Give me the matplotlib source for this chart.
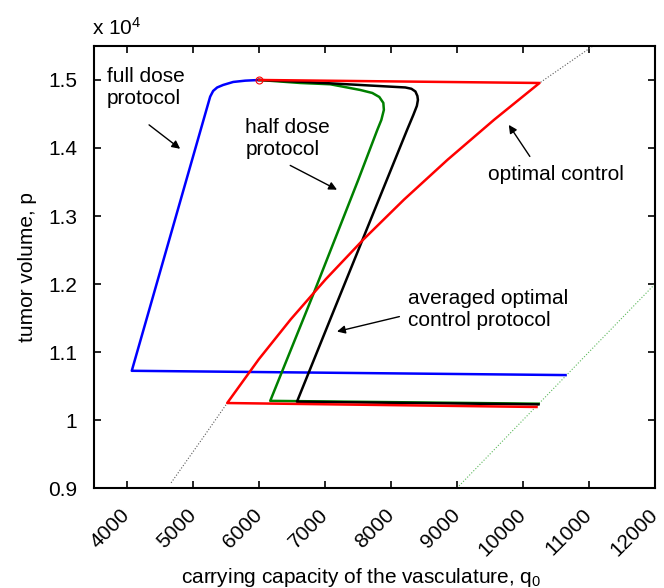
import matplotlib
matplotlib.use("Agg")
import matplotlib.pyplot as plt
from matplotlib.ticker import FixedLocator
from matplotlib.transforms import ScaledTranslation

plt.rcParams['font.family'] = ['Liberation Sans', 'DejaVu Sans']
plt.rcParams['mathtext.fontset'] = 'custom'
plt.rcParams['mathtext.rm'] = 'Liberation Sans'
plt.rcParams['mathtext.it'] = 'Liberation Sans:italic'

# carrying capacity q (x) and tumor volume p (y) along each trajectory
full_q = [6000, 5791, 5609, 5457, 5366, 5305, 5260, 4072, 10645]
full_p = [15000, 14990, 14971, 14927, 14890, 14839, 14755, 10724, 10661]

half_q = [6000, 6625, 7080, 7535, 7717, 7823, 7884, 7892, 7854, 7793, 7505, 6822, 6170, 10235]
half_p = [15000, 14956, 14937, 14853, 14809, 14750, 14663, 14560, 14413, 14267, 13534, 11848, 10282, 10240]

avg_q = [6000, 6625, 8218, 8309, 8370, 8400, 8408, 8392, 8339, 8244, 7080, 6575, 10235]
avg_p = [15000, 14975, 14890, 14871, 14831, 14765, 14707, 14619, 14487, 14267, 11482, 10269, 10230]

opt_q = [6000, 10251, 9561, 8857, 8197, 7581, 7009, 6482, 5998, 5518, 10205]
opt_p = [15000, 14956, 14414, 13827, 13241, 12654, 12068, 11482, 10895, 10250, 10192]

# singular arc (black dotted) and the diagonal p = q (green dotted)
sing_q = [4668, 5138, 5518, 5998, 6482, 7009, 7581, 8197, 8857, 9561, 10251, 11060]
sing_p = [9077, 9722, 10250, 10895, 11482, 12068, 12654, 13241, 13827, 14414, 14956, 15500]
diag_q = [9000, 12000]
diag_p = [9000, 12000]

start_q, start_p = 6000, 15000

x_ticks = [4000, 5000, 6000, 7000, 8000, 9000, 10000, 11000, 12000]
y_ticks = [9000, 10000, 11000, 12000, 13000, 14000, 15000]
y_labels = ['0.9', '1', '1.1', '1.2', '1.3', '1.4', '1.5']

fig = plt.figure(figsize=(6.64, 5.88), dpi=100)
ax = fig.add_axes([0.1416, 0.170, 0.8448, 0.7518])

ax.plot(sing_q, sing_p, color='0.35', linestyle=':', linewidth=0.8)
ax.plot(diag_q, diag_p, color='#5cb85c', linestyle=':', linewidth=0.8)

ax.plot(full_q, full_p, color='#0000ff', linewidth=1.8)
ax.plot(half_q, half_p, color='#008000', linewidth=1.8)
ax.plot(avg_q, avg_p, color='black', linewidth=1.8)
ax.plot(opt_q, opt_p, color='#ff0000', linewidth=1.8)
ax.plot(start_q, start_p, 'o', mfc='none', mec='red', ms=5, mew=0.8)

ax.set_xlim(3500, 12000)
ax.set_ylim(9000, 15500)
ax.xaxis.set_major_locator(FixedLocator(x_ticks))
ax.yaxis.set_major_locator(FixedLocator(y_ticks))
ax.set_yticklabels(y_labels)
ax.set_xticklabels([str(t) for t in x_ticks], rotation=45, ha='right',
                   va='center', rotation_mode='anchor')
shift = ScaledTranslation(0.07, 0, fig.dpi_scale_trans)
for lbl in ax.get_xticklabels():
    lbl.set_transform(lbl.get_transform() + shift)

ax.tick_params(direction='in', top=True, right=True, length=5, width=1.2,
               labelsize=15)
ax.tick_params(axis='y', pad=12)
ax.tick_params(axis='x', pad=17)
for s in ax.spines.values():
    s.set_linewidth(1.5)

ax.set_xlabel('carrying capacity of the vasculature, q$_0$', fontsize=15)
ax.xaxis.set_label_coords(0.477, -0.176)
ax.set_ylabel('tumor volume, p', fontsize=15, labelpad=8)
fig.text(0.139, 0.953, 'x 10$^4$', fontsize=15, ha='left', va='center')

arrow = dict(arrowstyle='-|>', color='black', lw=1.0, mutation_scale=12,
             shrinkA=0, shrinkB=0)
ax.text(3697, 15190, 'full dose\nprotocol', fontsize=15, ha='left', va='top')
ax.annotate('', xy=(4805, 13988), xytext=(4334, 14340), arrowprops=arrow)

ax.text(5791, 14443, 'half dose\nprotocol', fontsize=15, ha='left', va='top')
ax.annotate('', xy=(7182, 13387), xytext=(6473, 13744), arrowprops=arrow)

ax.text(9472, 13754, 'optimal control', fontsize=15, ha='left', va='top')
ax.annotate('', xy=(9785, 14340), xytext=(10104, 13876), arrowprops=arrow)

ax.text(8253, 11921, 'averaged optimal\ncontrol protocol', fontsize=15,
        ha='left', va='top')
ax.annotate('', xy=(7182, 11301), xytext=(8127, 11521), arrowprops=arrow)

fig.savefig('out.png', dpi=100)
